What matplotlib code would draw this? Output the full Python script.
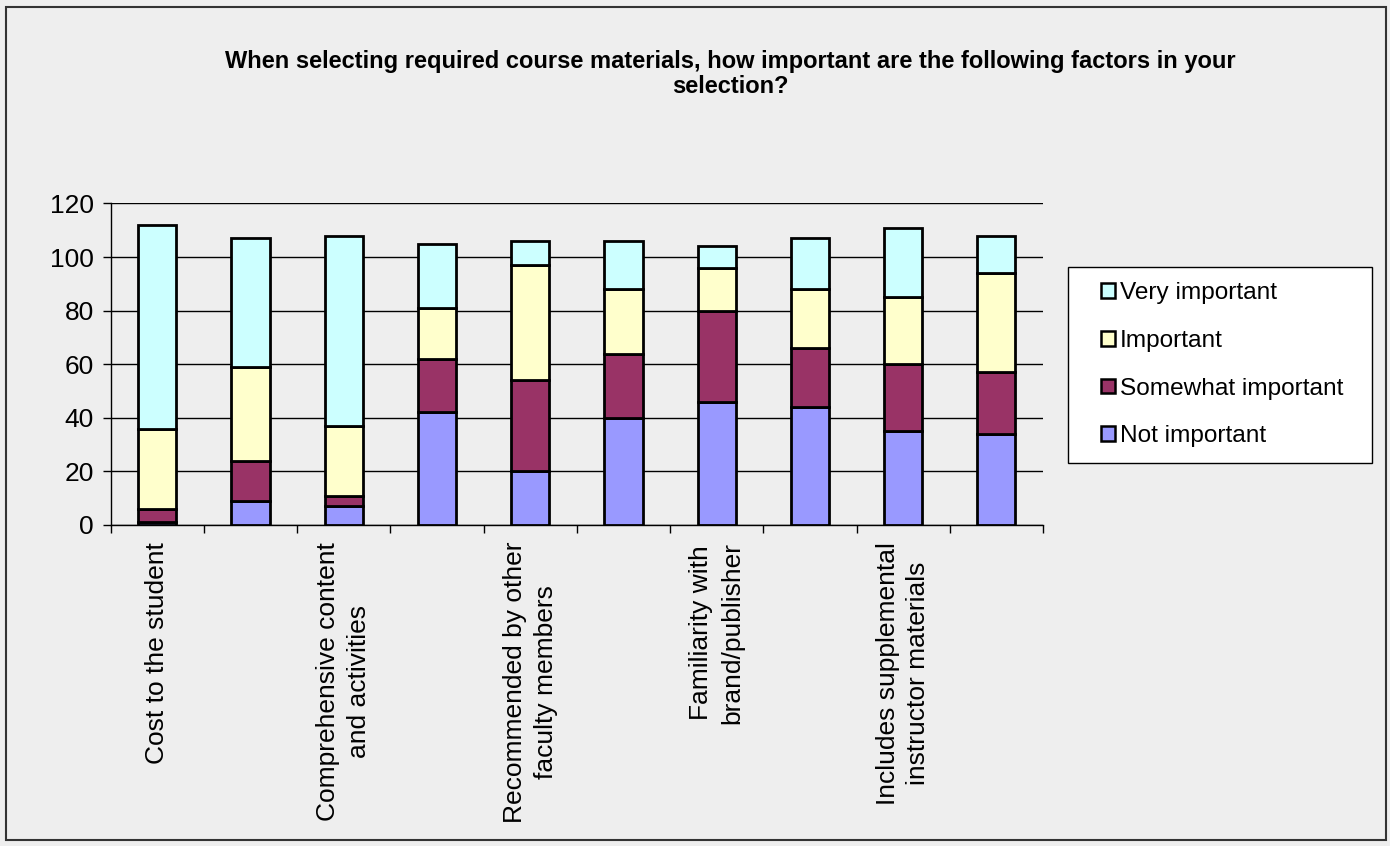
import matplotlib
matplotlib.use("Agg")
import matplotlib.pyplot as plt
from matplotlib.patches import Rectangle, Patch
import numpy as np

plt.rcParams['font.family'] = ['Liberation Sans', 'DejaVu Sans']

title = "When selecting required course materials, how important are the following factors in your\nselection?"
categories = ["Cost to the student", "", "Comprehensive content\nand activities", "",
              "Recommended by other\nfaculty members", "", "Familiarity with\nbrand/publisher", "",
              "Includes supplemental\ninstructor materials", ""]
series_names = ["Not important", "Somewhat important", "Important", "Very important"]
not_important = [1, 9, 7, 42, 20, 40, 46, 44, 35, 34]
somewhat_important = [5, 15, 4, 20, 34, 24, 34, 22, 25, 23]
important = [30, 35, 26, 19, 43, 24, 16, 22, 25, 37]
very_important = [76, 48, 71, 24, 9, 18, 8, 19, 26, 14]
colors = ["#9999FF", "#993366", "#FFFFCC", "#CCFFFF"]
yticks = [0, 20, 40, 60, 80, 100, 120]

bg = "#EEEEEE"
W, H = 1390, 846
fig = plt.figure(figsize=(13.9, 8.46), dpi=100, facecolor=bg)
fig.patches.append(Rectangle((6/W, 1-840/H), 1380/W, 833/H, transform=fig.transFigure,
                             fill=False, edgecolor="#333333", linewidth=1.5, zorder=10))

ax = fig.add_axes([110.7/W, 1-525/H, (1043-110.7)/W, (525-203.5)/H])
ax.set_facecolor(bg)

x = np.arange(len(categories))
bottom = np.zeros(len(categories))
handles = []
for name, vals, c in zip(series_names, [not_important, somewhat_important, important, very_important], colors):
    vals = np.array(vals, dtype=float)
    ax.bar(x, vals, bottom=bottom, width=0.41, color=c, edgecolor="black", linewidth=2.0, zorder=3)
    bottom += vals
    handles.append(Patch(facecolor=c, edgecolor="black", linewidth=1.8, label=name))

ax.set_xlim(-0.5, len(categories) - 0.5)
ax.set_ylim(0, 120)
ax.set_yticks(yticks)
ax.yaxis.grid(True, color="black", linewidth=1.0, zorder=0)
ax.set_axisbelow(True)
for s in ["top", "right"]:
    ax.spines[s].set_visible(False)
ax.spines["left"].set_linewidth(1.0)
ax.spines["bottom"].set_linewidth(1.0)
ax.tick_params(axis="y", direction="out", length=6, width=1, labelsize=19, pad=6)

ax.set_xticks(np.arange(len(categories) + 1) - 0.5)
ax.set_xticklabels([])
ax.tick_params(axis="x", which="major", direction="out", length=6, width=1)
ax.set_xticks(x, minor=True)
ax.set_xticklabels(categories, minor=True, rotation=90, fontsize=19, ha="center", va="top",
                   multialignment="center", linespacing=1.35)
ax.tick_params(axis="x", which="minor", length=0, pad=12)

fig.text(730/W, 1-50/H, title, ha="center", va="top", fontsize=17, fontweight="bold",
         linespacing=1.12)

# legend frame
fig.patches.append(Rectangle((1068/W, 1-463/H), 304/W, 196/H, transform=fig.transFigure,
                             facecolor="white", edgecolor="black", linewidth=1.0, zorder=5))
leg = fig.legend(handles=handles[::-1], loc="upper left",
                 bbox_to_anchor=(1094/W, 1-275/H), fontsize=17.6,
                 frameon=False,
                 handlelength=0.56, handleheight=0.56, handletextpad=0.2, labelspacing=1.05,
                 borderpad=0.3, borderaxespad=0)
leg.set_zorder(6)

fig.savefig("out.png", dpi=100, facecolor=bg)
